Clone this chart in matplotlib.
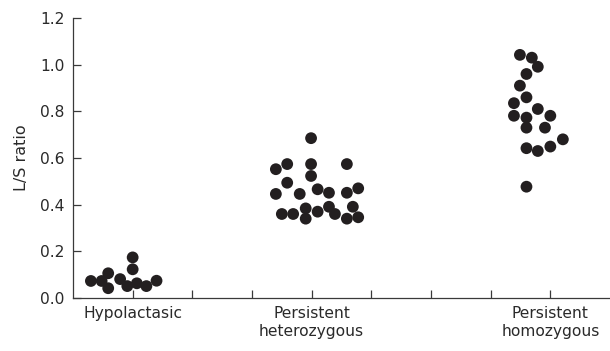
import matplotlib
matplotlib.use("Agg")
import matplotlib.pyplot as plt

# category positions on the x axis and their labels
cat_pos = [0, 3, 7]
cat_labels = ["Hypolactasic", "Persistent\nheterozygous", "Persistent\nhomozygous"]

# hypolactasic
hypo_x = [-0.70, -0.52, -0.41, -0.41, -0.21, -0.09, 0.00, 0.00, 0.07, 0.23, 0.40]
hypo_y = [0.073, 0.073, 0.106, 0.042, 0.081, 0.051, 0.174, 0.123, 0.063, 0.051, 0.074]

# persistent heterozygous
het_x = [2.99, 2.40, 2.59, 2.99, 3.59, 2.99, 2.59, 2.40, 2.80, 3.10, 3.29, 3.59,
         3.78, 2.50, 2.69, 2.90, 2.90, 3.10, 3.29, 3.39, 3.59, 3.69, 3.78]
het_y = [0.685, 0.552, 0.574, 0.574, 0.574, 0.523, 0.494, 0.446, 0.446, 0.466, 0.451, 0.451,
         0.470, 0.360, 0.360, 0.384, 0.340, 0.370, 0.391, 0.360, 0.340, 0.391, 0.346]

# persistent homozygous
hom_x = [6.49, 6.69, 6.79, 6.60, 6.49, 6.60, 6.39, 6.79, 6.39, 6.60, 7.00, 6.60,
         6.91, 7.21, 7.00, 6.60, 6.79, 6.60]
hom_y = [1.042, 1.030, 0.991, 0.960, 0.910, 0.860, 0.835, 0.810, 0.781, 0.773, 0.781, 0.730,
         0.730, 0.680, 0.649, 0.642, 0.630, 0.477]

dot = "#231f20"
axc = "#3a3a3a"

fig = plt.figure(figsize=(6.10, 3.51), dpi=100)
ax = fig.add_axes([73 / 610, 53 / 351, 537 / 610, 280 / 351])

for xs, ys in [(hypo_x, hypo_y), (het_x, het_y), (hom_x, hom_y)]:
    ax.scatter(xs, ys, s=72, color=dot, edgecolors="none", zorder=3, clip_on=False)

ax.set_xlim(-1, 8)
ax.set_ylim(0, 1.2)
ax.set_xticks(range(0, 8))
ax.set_xticklabels([cat_labels[cat_pos.index(i)] if i in cat_pos else "" for i in range(8)])
ax.set_yticks([0.0, 0.2, 0.4, 0.6, 0.8, 1.0, 1.2])
ax.set_yticklabels(["0.0", "0.2", "0.4", "0.6", "0.8", "1.0", "1.2"])
ax.set_ylabel("L/S ratio", fontsize=11.5, color="#2a2a2a", labelpad=8)

ax.tick_params(axis="both", direction="in", length=6, width=0.9, color=axc,
               labelsize=11.2, labelcolor="#2a2a2a")
ax.tick_params(axis="x", pad=6)
ax.tick_params(axis="y", pad=6)

for side in ["top", "right"]:
    ax.spines[side].set_visible(False)
for side in ["left", "bottom"]:
    ax.spines[side].set_linewidth(0.9)
    ax.spines[side].set_color(axc)

fig.savefig("out.png", dpi=100)
